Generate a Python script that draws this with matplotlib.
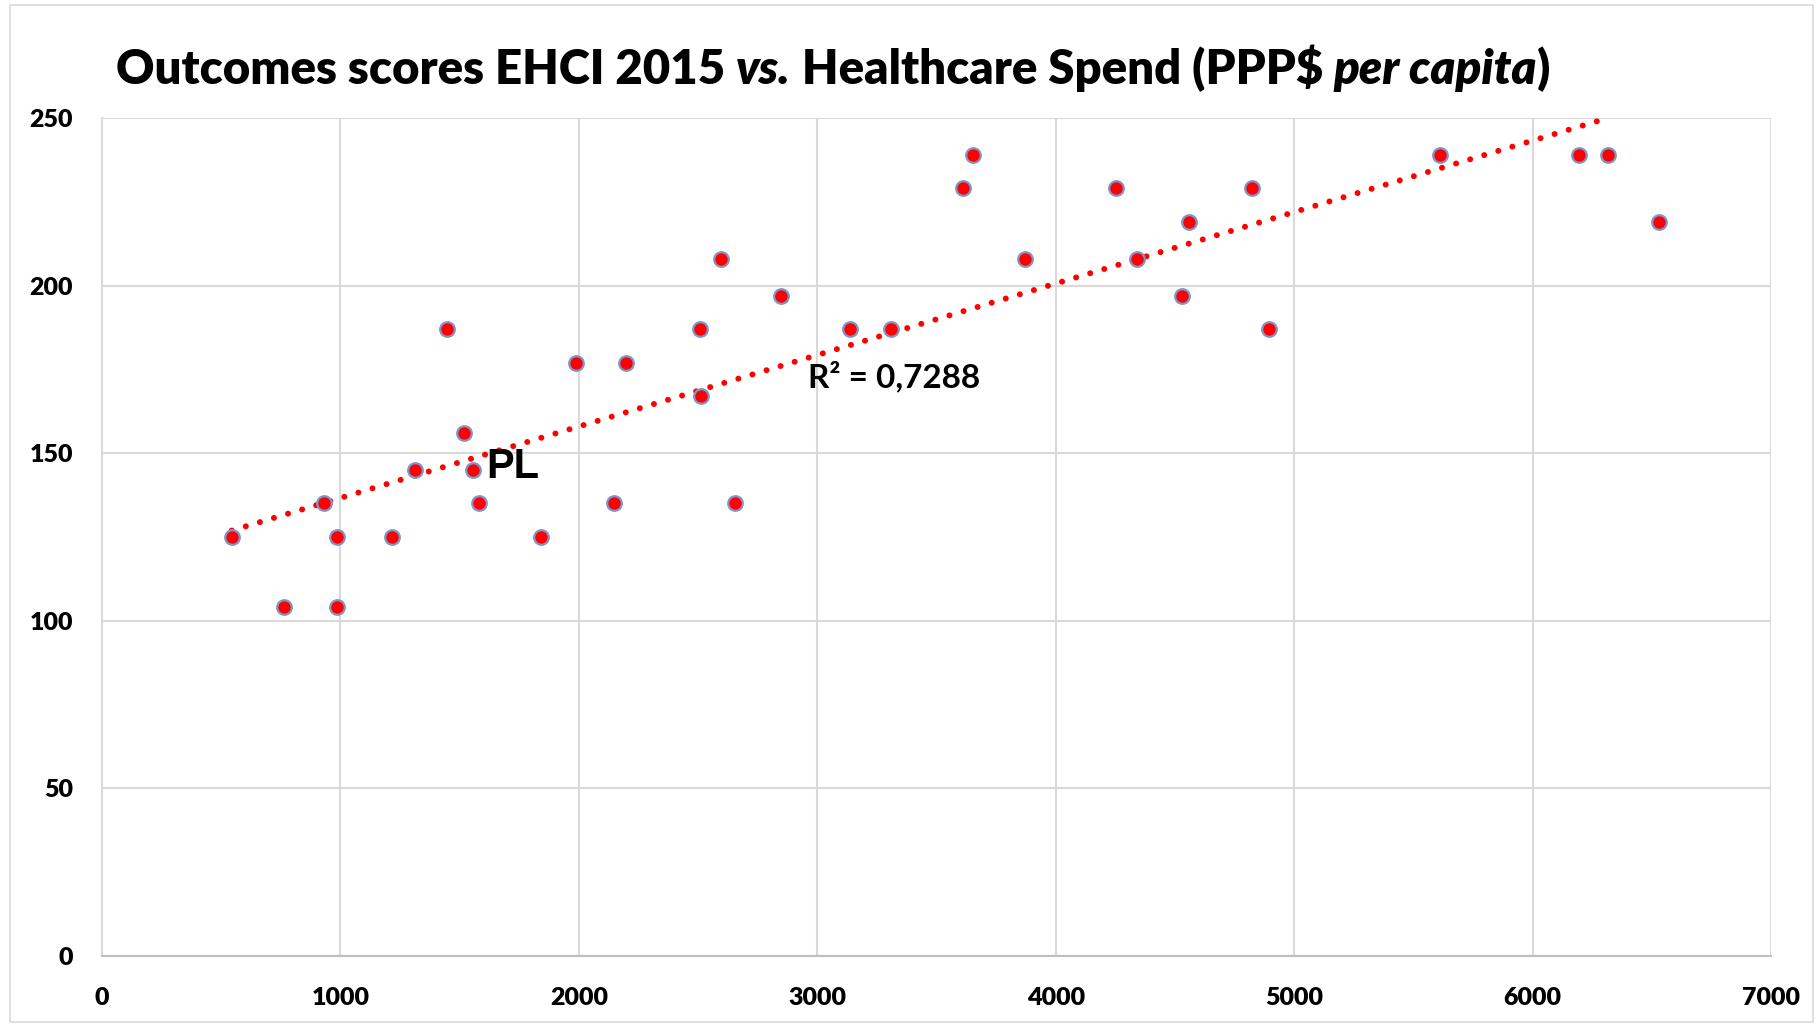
import numpy as np
import matplotlib
matplotlib.use("Agg")
import matplotlib.pyplot as plt
from matplotlib.patches import Rectangle

spend = [544, 763, 933, 987, 987, 1215, 1313, 1449, 1517, 1556, 1580, 1842,
         1988, 2149, 2197, 2508, 2513, 2596, 2654, 2849, 3136, 3311, 3612,
         3651, 3870, 4254, 4341, 4531, 4560, 4822, 4895, 5610, 6194, 6315, 6529]
score = [125, 104, 135, 125, 104, 125, 145, 187, 156, 145, 135, 125,
         177, 135, 177, 187, 167, 208, 135, 197, 187, 187, 229,
         239, 208, 229, 208, 197, 219, 229, 187, 239, 239, 239, 219]
x_ticks = [0, 1000, 2000, 3000, 4000, 5000, 6000, 7000]
y_ticks = [0, 50, 100, 150, 200, 250]
r2_label = "R² = 0,7288"
pl_label = "PL"
pl_point = (1556, 145)
title_parts = [("Outcomes scores EHCI 2015 ", "normal"), ("vs.", "italic"),
               (" Healthcare Spend (PPP$ ", "normal"), ("per capita", "italic"),
               (")", "normal")]

W, H = 1817, 1024
fig = plt.figure(figsize=(W / 100, H / 100), dpi=100)
ax = fig.add_axes([102 / W, 1 - 956 / H, (1771 - 102) / W, (956 - 118) / H])

fig.patches.append(Rectangle((10 / W, 0.002), (W - 14) / W, 1 - 7 / H,
                             transform=fig.transFigure, fill=False,
                             edgecolor="#d9d9d9", linewidth=1.2))

ax.set_xlim(0, 7000)
ax.set_ylim(0, 250)
ax.set_xticks(x_ticks)
ax.set_yticks(y_ticks)
ax.grid(True, color="#d9d9d9", linewidth=1.5)
ax.set_axisbelow(True)
for s in ["top", "right"]:
    ax.spines[s].set_visible(False)
ax.spines["left"].set_color("#d9d9d9")
ax.spines["left"].set_linewidth(1.5)
ax.spines["bottom"].set_color("#bfbfbf")
ax.spines["bottom"].set_linewidth(1.5)
ax.tick_params(length=0)
ax.tick_params(axis="y", pad=21)
ax.tick_params(axis="x", pad=22)
for lab in ax.get_xticklabels() + ax.get_yticklabels():
    lab.set_fontfamily("Lato")
    lab.set_fontweight("heavy")
    lab.set_fontsize(18)

# trendline (linear least squares on the data)
m, b = np.polyfit(spend, score, 1)
x_end = min((250 - b) / m, 7000)
xs = np.array([min(spend), x_end])
ax.plot(xs, m * xs + b, color="#ff0000", linewidth=4.3,
        linestyle=(0, (0.01, 2.45)), dash_capstyle="round", zorder=2,
        clip_on=False)

ax.scatter(spend, score, s=110, facecolor="#ff0000", edgecolor="#7f95c8",
           linewidth=1.6, zorder=3, clip_on=False)

ax.text(pl_point[0] + 55, pl_point[1] + 1, pl_label, fontsize=30,
        fontweight="bold", family="Liberation Sans", va="center", ha="left")
ax.text(2960, 173, r2_label, fontsize=24, fontweight="bold",
        family="Lato", va="center", ha="left")

renderer = fig.canvas.get_renderer()
xpos = 116
for txt, style in title_parts:
    tt = fig.text(xpos / W, 1 - 84 / H, txt, fontsize=34, fontweight="heavy",
                  fontstyle=style, family="Lato", va="baseline", ha="left")
    bb = tt.get_window_extent(renderer=renderer)
    xpos += bb.width

fig.savefig("out.png", dpi=100, facecolor="white")
